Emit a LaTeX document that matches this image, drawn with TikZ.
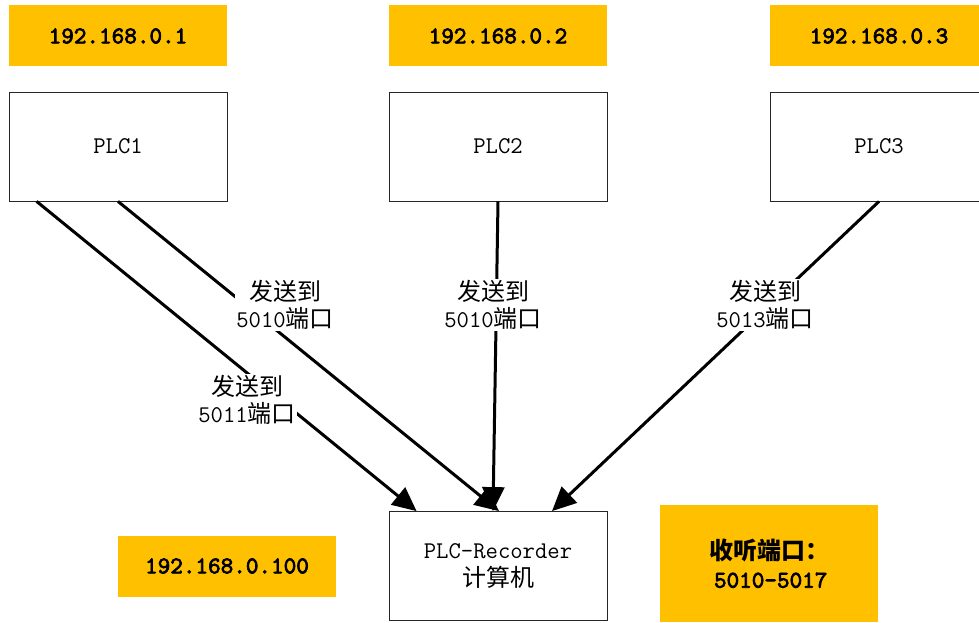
\documentclass[tikz,border=0pt]{standalone}
\usepackage{fontspec}
\newfontfamily\cjk{Noto Sans CJK SC}
\newfontfamily\ipfont{lmmono10-regular.otf}[FakeBold=3]
\usetikzlibrary{arrows.meta}
\definecolor{ipfill}{HTML}{FFC000}
\tikzset{
  ipbox/.style={fill=ipfill, minimum width=218pt, minimum height=61pt, inner sep=0pt,
    font=\ipfont\fontsize{24}{28}\selectfont},
  plcbox/.style={draw=black!85, line width=0.8pt, minimum width=218pt, minimum height=109pt,
    inner sep=0pt, font=\ttfamily\fontsize{24}{28}\selectfont},
  sendline/.style={line width=3pt, -{Triangle[length=24pt,width=22pt]}},
  portlbl/.style={fill=white, inner sep=1pt, align=center,
    font=\ttfamily\fontsize{24}{27}\selectfont}
}
\begin{document}
\begin{tikzpicture}[x=1pt, y=-1pt]
    \useasboundingbox (0,0) rectangle (979,623);
    % IP addresses of the PLCs
    \node[ipbox] (ip1) at (118,36) {192.168.0.1};
    \node[ipbox] (ip2) at (498,36) {192.168.0.2};
    \node[ipbox] (ip3) at (879,36) {192.168.0.3};
    % PLC boxes
    \node[plcbox] (plc1) at (118,146.5) {PLC1};
    \node[plcbox] (plc2) at (498,146.5) {PLC2};
    \node[plcbox] (plc3) at (879,146.5) {PLC3};
    % Recorder computer
    \node[plcbox, align=center] (rec) at (498,566) {PLC-Recorder\\{\cjk 计算机}};
    \node[ipbox] (ip4) at (227,566) {192.168.0.100};
    \node[ipbox, minimum height=117pt, align=left] (listen) at (769,563.5)
      {{\cjk\bfseries 收听端口：}\\\hspace{5pt}5010-5017};
    % Connections
    \draw[sendline] ([xshift=28pt]plc1.south west) -- ([xshift=28pt]rec.north west);
    \draw[sendline] (plc1.south) -- ([xshift=1pt]rec.north);
    \draw[sendline] (plc2.south) -- ([xshift=-5pt]rec.north);
    \draw[sendline] (plc3.south) -- ([xshift=54pt]rec.north);
    % Port labels
    \node[portlbl] (lbl1) at (285,305) {{\cjk 发送到}\\5010{\cjk 端口}};
    \node[portlbl] (lbl2) at (247,400) {{\cjk 发送到}\\5011{\cjk 端口}};
    \node[portlbl] (lbl3) at (493,305) {{\cjk 发送到}\\5010{\cjk 端口}};
    \node[portlbl] (lbl4) at (765,305) {{\cjk 发送到}\\5013{\cjk 端口}};
\end{tikzpicture}
\end{document}
